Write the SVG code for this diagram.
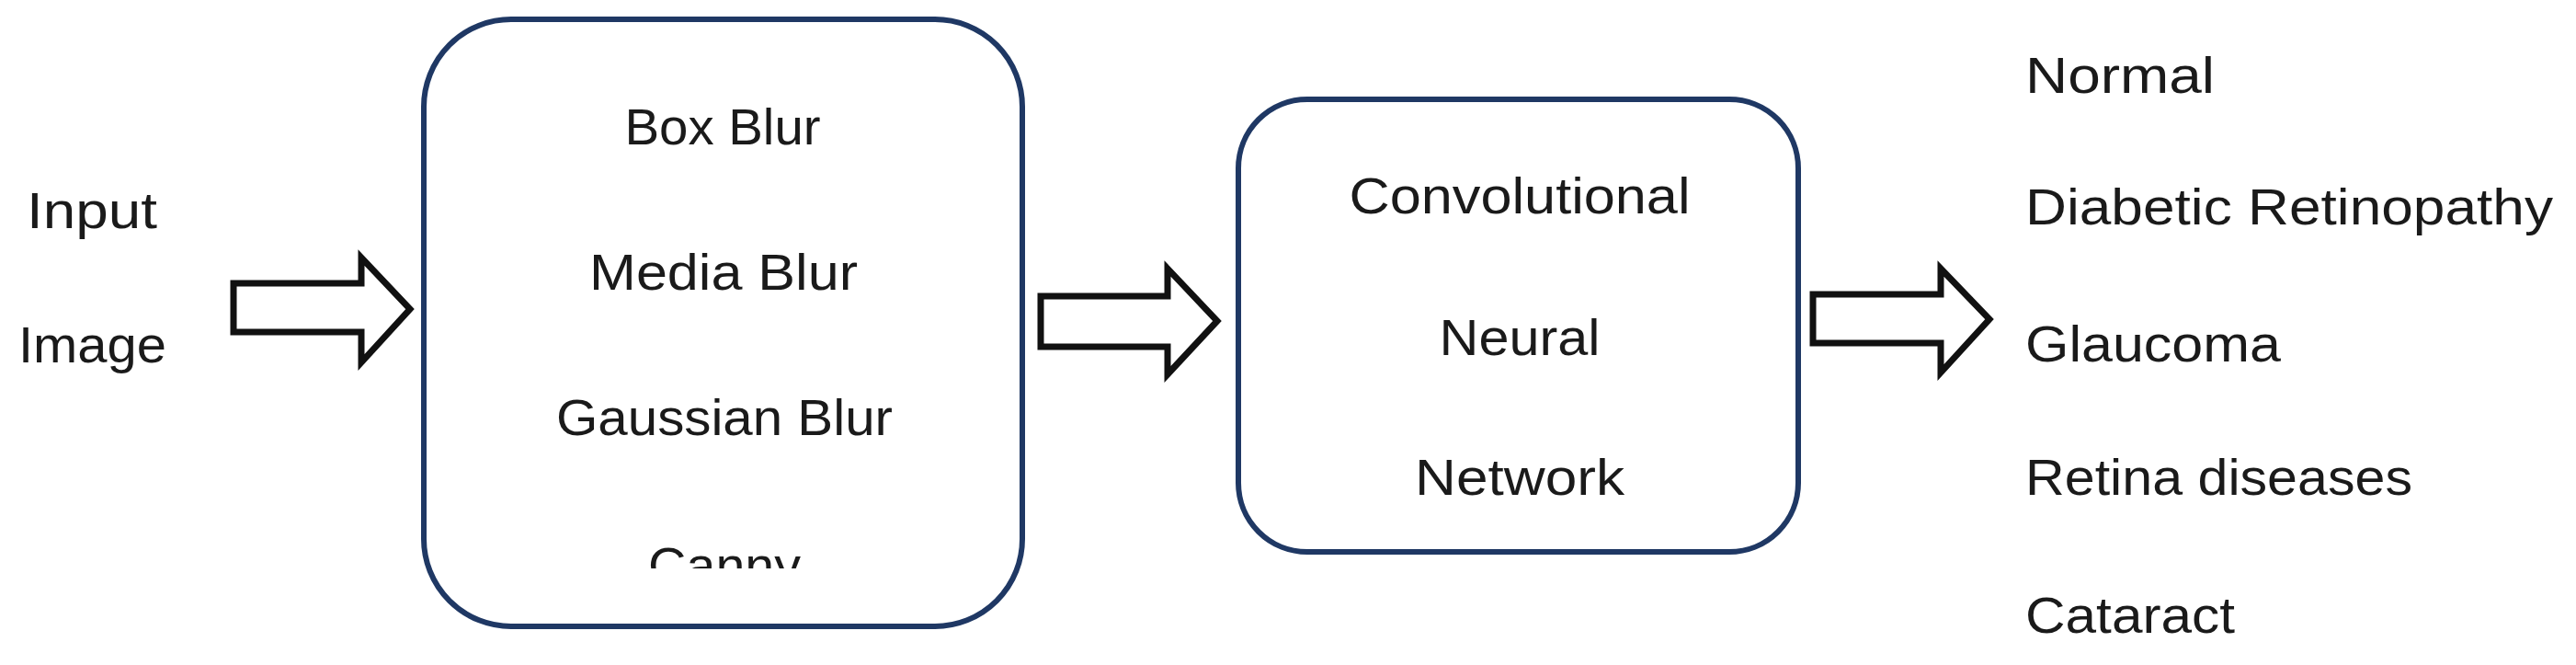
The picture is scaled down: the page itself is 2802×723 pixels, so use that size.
<svg xmlns="http://www.w3.org/2000/svg" width="2802" height="723" viewBox="0 0 2802 723">
<style>
.box{fill:#fff;stroke:#1f3864;stroke-width:6}
.arr{fill:#fff;stroke:#111;stroke-width:7;stroke-linejoin:miter}
text{font-family:"Liberation Sans",Arial,sans-serif;font-size:56px;fill:#1a1a1a}
.c{text-anchor:middle}
</style>
<defs><clipPath id="clipA"><rect x="0" y="0" width="2802" height="618"/></clipPath></defs>
<rect width="2802" height="723" fill="#fff"/>
<g id="input"><text x="29" y="248" textLength="142" lengthAdjust="spacingAndGlyphs">Input</text><text x="20" y="394" textLength="161" lengthAdjust="spacingAndGlyphs">Image</text></g>
<g id="filters"><rect class="box" x="461" y="21" width="651" height="660" rx="95" ry="95"/>
<text class="c" x="786" y="157" textLength="213" lengthAdjust="spacingAndGlyphs">Box Blur</text>
<text class="c" x="787" y="315" textLength="292" lengthAdjust="spacingAndGlyphs">Media Blur</text>
<text class="c" x="788" y="473" textLength="366" lengthAdjust="spacingAndGlyphs">Gaussian Blur</text>
<text class="c" x="788" y="634" textLength="166" lengthAdjust="spacingAndGlyphs" clip-path="url(#clipA)">Canny</text></g>
<g id="cnn"><rect class="box" x="1347" y="108" width="609" height="492" rx="75" ry="75"/>
<text class="c" x="1653" y="232" textLength="371" lengthAdjust="spacingAndGlyphs">Convolutional</text>
<text class="c" x="1653" y="386" textLength="175" lengthAdjust="spacingAndGlyphs">Neural</text>
<text class="c" x="1653" y="538" textLength="228" lengthAdjust="spacingAndGlyphs">Network</text></g>
<g id="outputs">
<text x="2203" y="101" textLength="206" lengthAdjust="spacingAndGlyphs">Normal</text>
<text x="2203" y="244" textLength="574" lengthAdjust="spacingAndGlyphs">Diabetic Retinopathy</text>
<text x="2203" y="393" textLength="278" lengthAdjust="spacingAndGlyphs">Glaucoma</text>
<text x="2203" y="538" textLength="421" lengthAdjust="spacingAndGlyphs">Retina diseases</text>
<text x="2203" y="688" textLength="228" lengthAdjust="spacingAndGlyphs">Cataract</text></g>
<g id="connectors">
<polygon class="arr" points="254,308 393,308 393,280 446,336 393,394 393,361 254,361"/>
<polygon class="arr" points="1132,322 1270,322 1270,292 1324,349 1270,407 1270,377 1132,377"/>
<polygon class="arr" points="1972,320 2111,320 2111,292 2164,347 2111,405 2111,373 1972,373"/>
</g>
</svg>
